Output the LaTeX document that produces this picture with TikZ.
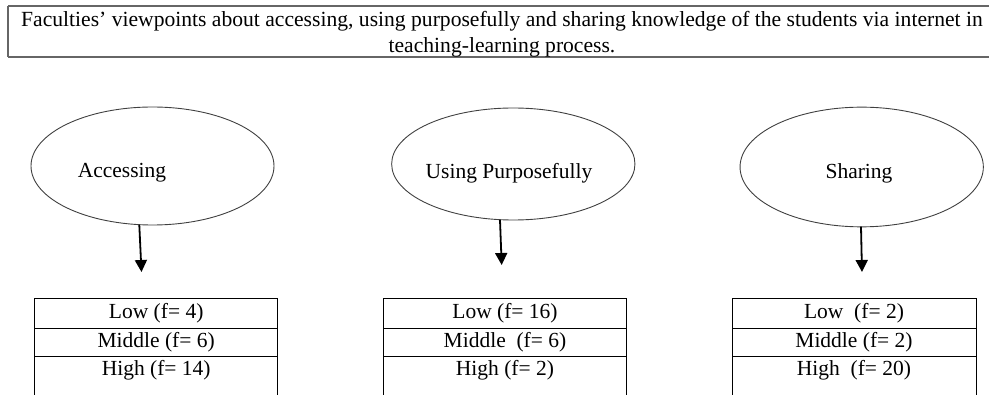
\documentclass[tikz,border=0pt]{standalone}
\usepackage{fontspec}
\setmainfont{Liberation Serif}
\usetikzlibrary{shapes.geometric,arrows.meta}
\begin{document}
\begin{tikzpicture}[x=1pt,y=-1pt,
  oval/.style={draw=black!75,line width=0.9pt,ellipse,inner sep=0pt},
  lbl/.style={font=\fontsize{21.5}{24}\selectfont,inner sep=0pt,anchor=center},
  tline/.style={draw=black,line width=1pt},
  arr/.style={line width=1.8pt,-{Triangle[length=12pt,width=12pt]}}]
\useasboundingbox (0,0) rectangle (989,395);
% title
\draw[draw=black!60,line width=1.8pt] (8.3,6.3) -- (1000,6.3) (8.3,56.7) -- (1000,56.7) (8.3,6.3) -- (8.3,56.7);
\node[font=\fontsize{21.6}{26}\selectfont,align=center,inner sep=0pt] (title) at (502,34)
  {Faculties’ viewpoints about accessing, using purposefully and sharing knowledge of the students via internet in\\teaching-learning process.};
% ellipses
\node[oval,minimum width=243pt,minimum height=118pt] (eA) at (152.5,166) {};
\node[oval,minimum width=243.3pt,minimum height=112pt] (eU) at (513.3,164) {};
\node[oval,minimum width=243.3pt,minimum height=119.7pt] (eS) at (861.7,167) {};
\node[lbl] (tA) at (122,173) {Accessing};
\node[lbl] (tU) at (509,173) {Using Purposefully};
\node[lbl] (tS) at (859,173) {Sharing};
% arrows
\coordinate (aAs) at (139.3,225); \coordinate (aAe) at (141.5,272);
\coordinate (aUs) at (500,220); \coordinate (aUe) at (501.7,265);
\coordinate (aSs) at (861,226.7); \coordinate (aSe) at (862,272);
\draw[arr] (aAs) -- (aAe);
\draw[arr] (aUs) -- (aUe);
\draw[arr] (aSs) -- (aSe);
% tables
\foreach \l/\r/\n in {34.7/277.7/A,383.3/626.7/U,732.7/976/S}{
  \draw[tline] (\l,400) -- (\l,298.7) -- (\r,298.7) -- (\r,400);
  \draw[tline] (\l,328.7) -- (\r,328.7);
  \draw[tline] (\l,356.7) -- (\r,356.7);
}
\node[lbl] (lA) at (156.2,313) {Low (f= 4)};
\node[lbl] (mA) at (156.2,342) {Middle (f= 6)};
\node[lbl] (hA) at (156.2,370) {High (f= 14)};
\node[lbl] (lU) at (505,313) {Low (f= 16)};
\node[lbl] (mU) at (505,342) {Middle\ \ (f= 6)};
\node[lbl] (hU) at (505,370) {High (f= 2)};
\node[lbl] (lS) at (854,313) {Low\ \ (f= 2)};
\node[lbl] (mS) at (854,342) {Middle (f= 2)};
\node[lbl] (hS) at (854,370) {High\ \ (f= 20)};
\end{tikzpicture}
\end{document}
